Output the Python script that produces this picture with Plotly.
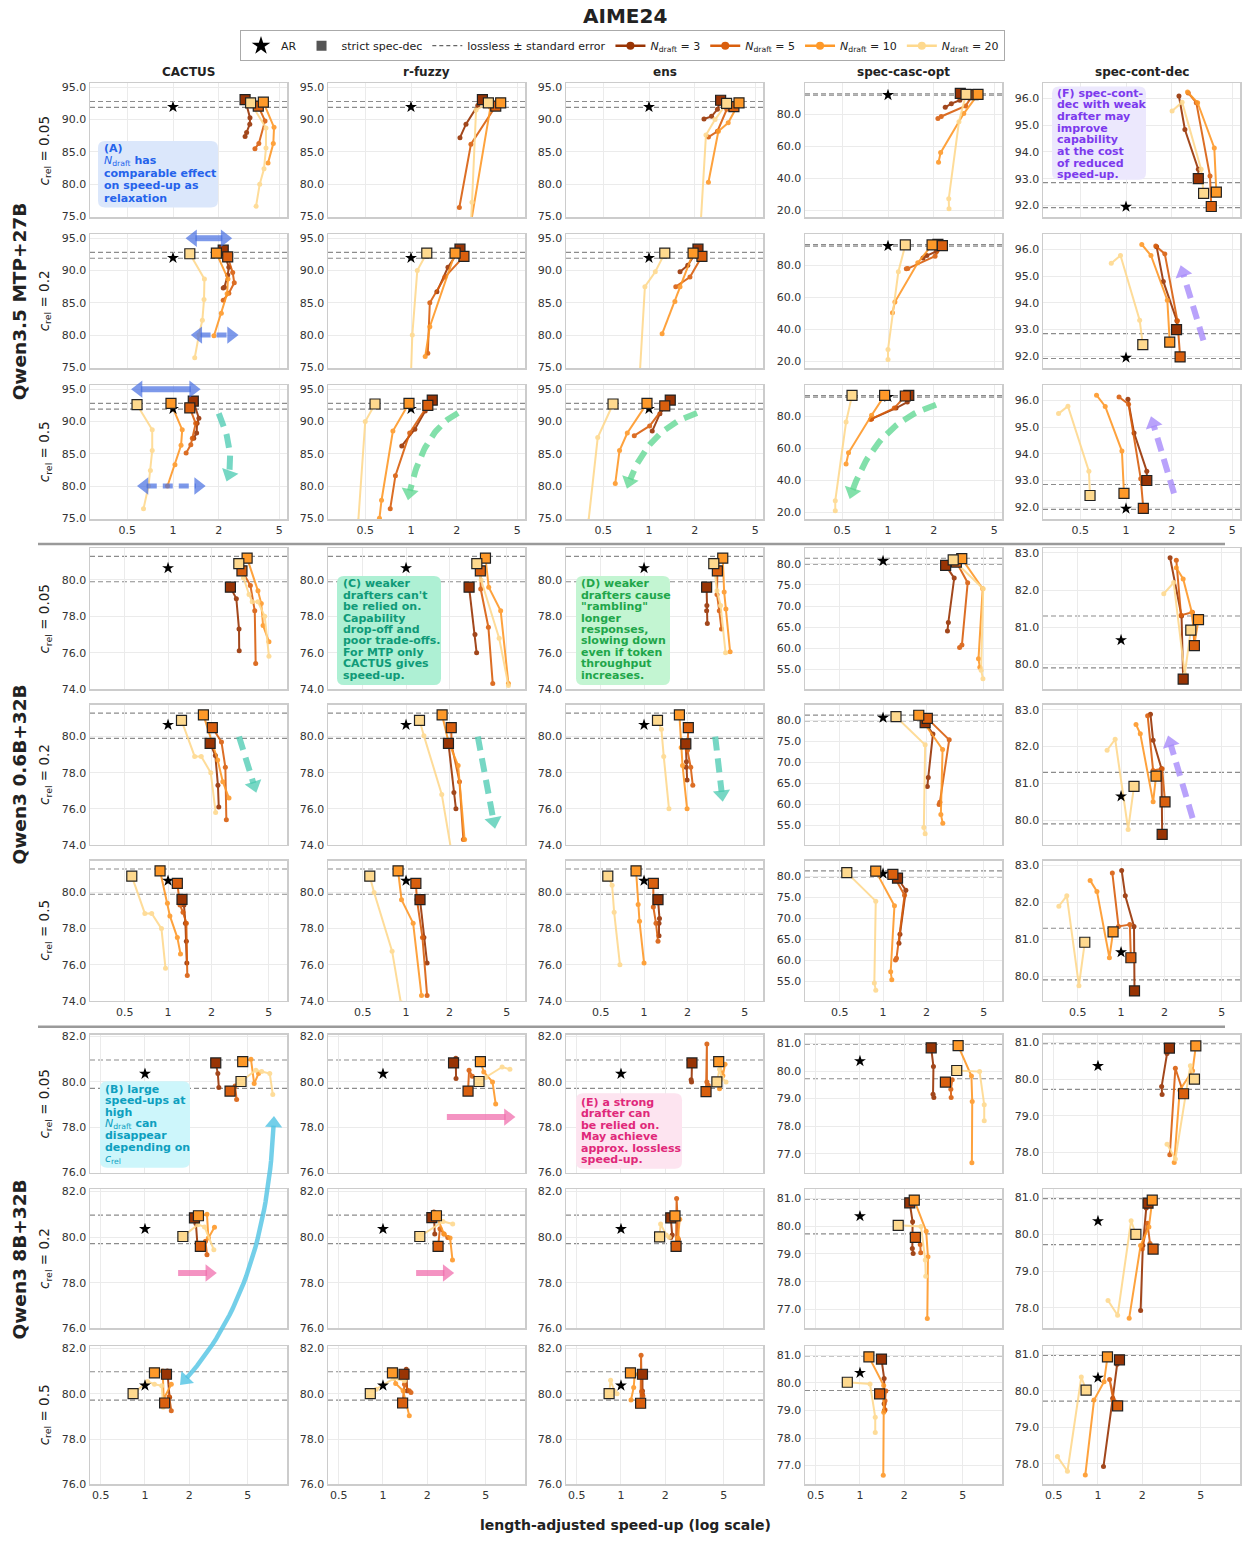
import numpy as np
import plotly.graph_objects as go

# ------------------------------------------------------------------ data
TITLE = "AIME24"
COLUMNS = ["CACTUS", "r-fuzzy", "ens", "spec-casc-opt", "spec-cont-dec"]
MODELS = ["Qwen3.5 MTP+27B", "Qwen3 0.6B+32B", "Qwen3 8B+32B"]
C_REL = ["0.05", "0.2", "0.5"]
N_DRAFT = [3, 5, 10, 20]
X_TICKS = [0.5, 1, 2, 5]
X_TICK_TEXT = ["0.5", "1", "2", "5"]

AR_SPEEDUP = 1.0
AR_ACC = [91.95, 80.65, 80.36]
LOSSLESS_HI = [[92.8, 92.8, 92.8, 92.75, 92.85], [81.3] * 5, [80.97] * 5]
LOSSLESS_LO = [[91.9, 91.9, 91.9, 91.85, 91.92], [79.9] * 5, [79.72] * 5]

Y_TICKS = [
    [[75, 80, 85, 90, 95]] * 3 + [[20, 40, 60, 80], [92, 93, 94, 95, 96]],
    [[74, 76, 78, 80]] * 3 + [[55, 60, 65, 70, 75, 80], [80, 81, 82, 83]],
    [[76, 78, 80, 82]] * 3 + [[77, 78, 79, 80, 81], [78, 79, 80, 81]],
]

# Each panel: one list per N_draft (3, 5, 10, 20); first point = strict spec-dec.
# ---- Qwen3.5 MTP+27B
mtp_005_cactus_s = [[2.98, 3.21, 3.20, 3.05, 2.98], [3.64, 4.03, 3.67, 3.46], [3.93, 4.62, 4.57, 4.22], [3.24, 4.09, 4.09, 3.97, 3.72, 3.52]]
mtp_005_cactus_a = [[93.1, 90.3, 89.3, 88.0, 87.4], [92.1, 89.8, 86.3, 85.5], [92.7, 88.8, 86.3, 83.3], [92.6, 88.7, 85.6, 82.4, 80.0, 76.6]]
mtp_005_rfuzzy_s = [[2.95, 2.75, 2.30, 2.10], [3.61, 2.48, 2.08], [3.89, 3.33, 2.50], [3.23, 2.68, 2.52, 2.48]]
mtp_005_rfuzzy_a = [[93.1, 92.2, 89.3, 87.2], [92.1, 86.2, 76.4], [92.6, 91.9, 74.5], [92.6, 91.5, 77.2, 74.0]]
mtp_005_ens_s = [[2.96, 2.82, 2.58, 2.30], [3.62, 3.25, 2.82, 2.46], [3.91, 3.32, 2.86, 2.46], [3.24, 2.72, 2.37, 2.19]]
mtp_005_ens_a = [[93.0, 91.6, 90.5, 90.1], [92.0, 91.6, 88.2, 87.3], [92.6, 89.5, 88.2, 80.3], [92.5, 90.0, 87.6, 74.0]]
mtp_005_casc_s = [[2.99, 2.97, 2.61, 2.38], [3.63, 3.24, 2.24, 2.13], [3.91, 3.15, 2.22, 2.15], [3.26, 2.93, 2.51, 2.52]]
mtp_005_casc_a = [[93.0, 88.7, 86.6, 84.3], [92.2, 85.2, 78.6, 77.3], [92.4, 80.4, 56.1, 50.1], [92.4, 75.3, 27.4, 21.2]]
mtp_005_cont_s = [[2.99, 2.99, 2.44, 2.23], [3.64, 3.57, 2.90, 2.57], [3.93, 3.81, 2.96, 2.54], [3.24, 3.12, 2.34, 2.01]]
mtp_005_cont_a = [[93.0, 93.35, 94.84, 96.09], [91.96, 93.1, 95.84, 96.2], [92.5, 94.15, 95.84, 96.24], [92.45, 93.35, 95.86, 95.53]]

mtp_02_cactus_s = [[2.14, 2.33, 2.29, 2.18, 2.14], [2.29, 2.47, 2.53, 2.33, 2.14], [1.93, 2.30, 2.27, 2.08, 1.86], [1.29, 1.61, 1.60, 1.56, 1.48, 1.39]]
mtp_02_cactus_a = [[93.15, 90.5, 89.3, 87.4, 87.3], [92.1, 89.7, 88.1, 86.5, 85.4], [92.7, 88.7, 86.4, 83.4, 79.9], [92.6, 88.7, 85.5, 82.3, 80.0, 76.5]]
mtp_02_rfuzzy_s = [[2.10, 1.75, 1.48], [2.23, 1.67, 1.33, 1.29], [1.95, 1.33, 1.24], [1.27, 1.10, 1.02, 1.0]]
mtp_02_rfuzzy_a = [[93.3, 90.5, 86.7], [92.2, 89.0, 85.0, 77.2], [92.7, 81.3, 76.7], [92.7, 90.0, 80.0, 74.0]]
mtp_02_ens_s = [[2.10, 1.80, 1.60], [2.23, 1.86, 1.50], [1.95, 1.60, 1.48, 1.22], [1.27, 1.10, 0.94, 0.87]]
mtp_02_ens_a = [[93.3, 90.8, 89.8], [92.2, 89.0, 87.5], [92.7, 87.5, 85.2, 80.2], [92.7, 89.8, 87.5, 74.0]]
mtp_02_casc_s = [[2.13, 2.08, 1.80, 1.70], [2.28, 2.04, 1.35, 1.32], [1.95, 1.57, 1.11, 1.07], [1.30, 1.17, 1.0, 1.0]]
mtp_02_casc_a = [[92.9, 88.5, 86.0, 84.5], [92.2, 85.6, 77.9, 77.7], [92.6, 81.5, 57.0, 50.3], [92.6, 75.9, 27.5, 21.3]]
mtp_02_cont_s = [[2.15, 2.16, 1.76, 1.59], [2.27, 2.18, 1.80, 1.57], [1.94, 1.87, 1.46, 1.27], [1.29, 1.23, 0.92, 0.80]]
mtp_02_cont_a = [[93.0, 93.33, 94.8, 96.1], [91.98, 93.33, 95.83, 96.12], [92.53, 94.1, 95.77, 96.18], [92.44, 93.35, 95.77, 95.48]]

mtp_05_cactus_s = [[1.36, 1.48, 1.44, 1.43, 1.37], [1.29, 1.41, 1.34, 1.31, 1.22], [0.97, 1.15, 1.13, 1.03, 0.92], [0.58, 0.73, 0.73, 0.71, 0.69, 0.64]]
mtp_05_cactus_a = [[93.15, 90.5, 89.7, 88.2, 87.4], [92.1, 89.7, 87.4, 86.4, 85.1], [92.8, 88.7, 86.3, 83.3, 80.0], [92.6, 88.7, 85.5, 82.4, 80.0, 76.5]]
mtp_05_rfuzzy_s = [[1.38, 1.24, 1.06, 0.87], [1.29, 0.98, 0.79, 0.73], [0.97, 0.76, 0.64, 0.62], [0.58, 0.50, 0.45]]
mtp_05_rfuzzy_a = [[93.3, 91.6, 88.8, 86.2], [92.5, 88.2, 81.6, 76.5], [92.8, 88.5, 77.8, 75.0], [92.7, 90.0, 74.6]]
mtp_05_ens_s = [[1.38, 1.18, 1.05], [1.27, 1.01, 0.80], [0.97, 0.72, 0.64, 0.60], [0.58, 0.46, 0.40]]
mtp_05_ens_a = [[93.3, 91.2, 88.5], [92.4, 89.3, 87.8], [92.8, 88.2, 85.5, 80.4], [92.7, 87.5, 74.6]]
mtp_05_casc_s = [[1.37, 1.34, 1.13, 0.78], [1.30, 1.10, 0.78, 0.77], [0.95, 0.78, 0.55, 0.53], [0.58, 0.53, 0.45, 0.45]]
mtp_05_casc_a = [[92.9, 88.75, 85.0, 78.3], [92.5, 85.0, 78.3, 77.8], [92.9, 80.5, 57.1, 50.2], [92.9, 76.3, 27.3, 21.0]]
mtp_05_cont_s = [[1.37, 1.37, 1.13, 1.03], [1.30, 1.25, 1.04, 0.90], [0.97, 0.94, 0.73, 0.64], [0.58, 0.57, 0.415, 0.36]]
mtp_05_cont_a = [[93.0, 93.35, 94.78, 96.04], [91.96, 93.07, 95.85, 96.12], [92.52, 94.1, 95.77, 96.19], [92.44, 93.35, 95.78, 95.5]]

# ---- Qwen3 0.6B+32B
q06_005_cactus_s = [[2.71, 2.98, 3.11, 3.12], [3.26, 3.73, 4.0, 4.06], [3.54, 4.21, 4.44, 4.57, 5.02], [3.10, 3.34, 3.65, 3.84, 4.21, 4.69, 5.02]]
q06_005_cactus_a = [[79.6, 78.97, 77.3, 76.1], [80.5, 79.7, 78.3, 75.4], [81.2, 79.4, 78.7, 77.5, 76.6], [80.9, 80.1, 79.2, 78.8, 78.8, 78.0, 75.8]]
q06_005_rfuzzy_s = [[2.74, 3.01, 3.09], [3.28, 3.30, 3.73, 4.0], [3.56, 3.75, 4.54, 5.14], [3.10, 3.32, 4.43, 5.14]]
q06_005_rfuzzy_a = [[79.6, 77.0, 76.0], [80.5, 79.5, 77.4, 74.3], [81.2, 79.6, 78.3, 74.3], [80.9, 80.0, 76.8, 74.2]]
q06_005_ens_s = [[2.72, 2.73, 2.72, 2.75], [3.23, 3.21, 3.33, 3.45], [3.52, 3.60, 3.70, 3.96], [3.05, 3.21, 3.40, 3.68]]
q06_005_ens_a = [[79.6, 78.6, 78.3, 77.6], [80.5, 79.2, 78.3, 77.3], [81.2, 79.33, 78.4, 76.05], [80.9, 79.4, 78.6, 76.0]]
q06_005_casc_s = [[2.72, 3.12, 2.84, 2.80], [3.23, 3.87, 3.53, 3.40], [3.52, 4.92, 4.60, 4.70], [3.07, 4.96, 4.80, 4.94]]
q06_005_casc_a = [[79.6, 76.6, 66.1, 64.1], [80.4, 75.5, 60.8, 60.2], [81.2, 74.1, 57.5, 55.5], [80.9, 74.1, 54.8, 52.8]]
q06_005_cont_s = [[2.70, 2.63, 2.19], [3.23, 3.13, 2.61, 2.42], [3.45, 3.25, 3.10, 2.70, 2.42], [3.05, 2.77, 2.32, 1.98]]
q06_005_cont_a = [[79.6, 81.3, 82.87], [80.5, 81.4, 81.32, 82.8], [81.2, 80.6, 81.4, 82.3, 82.6], [80.92, 79.73, 82.2, 81.9]]

q06_02_cactus_s = [[1.96, 2.13, 2.22, 2.25], [2.03, 2.35, 2.50, 2.54], [1.76, 2.03, 2.21, 2.40, 2.65], [1.24, 1.53, 1.70, 1.98, 2.14]]
q06_02_cactus_a = [[79.62, 78.95, 77.3, 76.1], [80.5, 79.7, 78.3, 75.4], [81.2, 79.6, 78.7, 77.5, 76.6], [80.9, 78.9, 78.9, 78.0, 75.8]]
q06_02_rfuzzy_s = [[1.97, 2.15, 2.22], [2.06, 2.07, 2.35, 2.50], [1.78, 1.97, 2.30, 2.55], [1.24, 1.33, 1.77, 2.05]]
q06_02_rfuzzy_a = [[79.62, 76.9, 76.0], [80.5, 79.55, 77.5, 74.3], [81.2, 79.7, 78.4, 74.3], [80.9, 80.05, 76.8, 73.8]]
q06_02_ens_s = [[1.95, 1.97, 1.96, 1.99], [2.03, 2.00, 2.11, 2.18], [1.76, 1.81, 1.85, 1.99], [1.24, 1.32, 1.37, 1.49]]
q06_02_ens_a = [[79.6, 78.6, 78.3, 77.6], [80.5, 79.24, 78.3, 77.3], [81.2, 79.4, 78.4, 76.0], [80.9, 80.4, 78.9, 76.0]]
q06_02_casc_s = [[1.96, 2.22, 2.06, 2.03], [2.03, 2.88, 2.48, 2.45], [1.77, 2.59, 2.52, 2.60], [1.23, 1.96, 1.92, 1.96]]
q06_02_casc_a = [[79.5, 76.8, 66.4, 64.3], [80.5, 75.4, 60.5, 60.0], [81.25, 73.1, 57.6, 55.5], [80.9, 74.2, 54.5, 53.0]]
q06_02_cont_s = [[1.93, 1.91, 1.67, 1.60], [2.02, 1.93, 1.67, 1.53], [1.75, 1.67, 1.36, 1.27], [1.23, 1.12, 0.91, 0.80]]
q06_02_cont_a = [[79.62, 81.4, 82.17, 82.88], [80.5, 81.4, 81.35, 82.84], [81.2, 80.5, 82.35, 82.6], [80.92, 79.75, 82.2, 81.9]]

q06_05_cactus_s = [[1.25, 1.29, 1.32, 1.34, 1.35], [1.16, 1.21, 1.27, 1.34, 1.36], [0.88, 0.99, 1.03, 1.16, 1.22], [0.56, 0.69, 0.77, 0.90, 0.96]]
q06_05_cactus_a = [[79.62, 79.3, 78.3, 77.3, 76.1], [80.5, 79.3, 78.9, 78.3, 75.4], [81.2, 79.4, 78.7, 77.5, 76.6], [80.9, 78.84, 78.84, 78.0, 75.8]]
q06_05_rfuzzy_s = [[1.25, 1.33, 1.40], [1.17, 1.19, 1.30, 1.40], [0.88, 0.93, 1.12, 1.28], [0.56, 0.60, 0.80, 0.92]]
q06_05_rfuzzy_a = [[79.6, 77.5, 76.1], [80.5, 79.6, 77.5, 74.3], [81.2, 79.6, 78.3, 74.3], [80.9, 80.0, 76.75, 73.9]]
q06_05_ens_s = [[1.25, 1.28, 1.27, 1.27], [1.16, 1.16, 1.21, 1.25], [0.88, 0.91, 0.93, 1.0], [0.56, 0.60, 0.62, 0.68]]
q06_05_ens_a = [[79.6, 78.56, 78.3, 77.6], [80.5, 79.2, 78.3, 77.3], [81.2, 79.33, 78.4, 76.1], [80.9, 80.4, 78.9, 76.0]]
q06_05_casc_s = [[1.26, 1.44, 1.31, 1.29], [1.17, 1.41, 1.24, 1.22], [0.89, 1.20, 1.13, 1.15], [0.56, 0.89, 0.87, 0.89]]
q06_05_casc_a = [[79.6, 76.7, 66.2, 64.1], [80.5, 75.5, 60.5, 60.1], [81.25, 73.0, 57.3, 55.4], [80.9, 74.1, 54.6, 52.9]]
q06_05_cont_s = [[1.24, 1.23, 1.07, 1.01], [1.17, 1.15, 0.96, 0.87], [0.88, 0.83, 0.68, 0.61], [0.56, 0.51, 0.42, 0.37]]
q06_05_cont_a = [[79.6, 81.35, 82.18, 82.87], [80.5, 81.4, 81.35, 82.8], [81.2, 80.5, 82.3, 82.6], [80.92, 79.74, 82.18, 81.9]]

# ---- Qwen3 8B+32B
q8_005_cactus_s = [[3.03, 3.13, 3.18], [3.79, 4.10, 4.20], [4.62, 5.26, 5.53, 5.92], [4.50, 5.68, 6.22, 7.06, 7.40]]
q8_005_cactus_a = [[80.84, 80.37, 79.76], [79.6, 79.82, 79.23], [80.9, 81.0, 79.93, 80.37], [80.02, 80.52, 80.46, 80.37, 79.45]]
q8_005_rfuzzy_s = [[3.02, 3.13, 3.14], [3.79, 3.85, 4.05], [4.60, 4.85, 5.56, 5.84], [4.50, 5.0, 6.46, 7.30]]
q8_005_rfuzzy_a = [[80.84, 81.05, 80.15], [79.6, 80.52, 80.25], [80.9, 80.44, 80.0, 79.03], [80.02, 80.2, 80.66, 80.56]]
q8_005_ens_s = [[3.04, 3.0, 3.02], [3.79, 3.84, 3.84, 3.92], [4.62, 4.93, 5.10, 4.68], [4.49, 4.68, 4.85, 5.18]]
q8_005_ens_a = [[80.84, 80.1, 80.0], [79.57, 81.68, 80.0, 79.86], [80.9, 80.27, 80.78, 79.7], [80.0, 80.56, 80.2, 80.0]]
q8_005_casc_s = [[3.05, 3.16, 3.14, 3.18], [3.81, 4.24, 4.15, 4.17], [4.65, 5.73, 5.80, 5.77], [4.55, 6.51, 7.0, 7.0]]
q8_005_casc_a = [[80.84, 80.16, 79.16, 79.04], [79.6, 79.68, 79.34, 79.04], [80.92, 79.82, 78.9, 76.68], [80.02, 79.98, 78.78, 78.2]]
q8_005_cont_s = [[3.06, 2.95, 2.71, 2.73], [3.82, 3.36, 3.08], [4.63, 4.40, 3.60, 3.30], [4.53, 4.25, 3.36, 2.95]]
q8_005_cont_a = [[80.85, 80.7, 79.8, 79.58], [79.6, 80.3, 77.93], [80.91, 80.23, 79.7, 77.72], [80.0, 80.37, 77.81, 78.22]]

q8_02_cactus_s = [[2.17, 2.22, 2.27], [2.38, 2.58, 2.64], [2.31, 2.64, 2.70, 2.97], [1.81, 2.29, 2.54, 2.94]]
q8_02_cactus_a = [[80.85, 80.6, 79.74], [79.6, 79.82, 79.23], [80.94, 81.0, 79.96, 80.44], [80.03, 80.55, 80.45, 79.45]]
q8_02_rfuzzy_s = [[2.15, 2.22, 2.25], [2.37, 2.44, 2.60, 2.76], [2.31, 2.60, 2.86, 2.97], [1.78, 2.56, 2.98]]
q8_02_rfuzzy_a = [[80.86, 81.1, 80.14], [79.6, 80.37, 80.14, 79.99], [80.94, 80.14, 79.97, 79.0], [80.03, 80.69, 80.58]]
q8_02_ens_s = [[2.18, 2.23, 2.18], [2.37, 2.39, 2.46], [2.33, 2.51, 2.44], [1.83, 1.86, 2.03, 2.13]]
q8_02_ens_a = [[80.85, 80.1, 79.99], [79.6, 81.7, 79.9], [80.93, 80.79, 79.96], [80.01, 80.58, 80.1, 80.0]]
q8_02_casc_s = [[2.18, 2.28, 2.27, 2.30], [2.38, 2.57, 2.59], [2.34, 2.82, 2.90, 2.87], [1.82, 2.60, 2.78, 2.80]]
q8_02_casc_a = [[80.84, 80.16, 79.2, 79.02], [79.6, 79.34, 79.04], [80.94, 79.82, 78.9, 76.68], [80.03, 79.99, 78.78, 78.2]]
q8_02_cont_s = [[2.19, 2.13, 2.02, 1.95], [2.37, 2.26, 2.17, 2.0], [2.34, 2.22, 1.95, 1.63], [1.81, 1.68, 1.36, 1.17]]
q8_02_cont_a = [[80.85, 80.72, 79.7, 77.93], [79.6, 79.75, 80.3, 79.6], [80.93, 80.2, 79.7, 77.72], [80.0, 80.37, 77.8, 78.2]]

q8_05_cactus_s = [[1.40, 1.42, 1.47], [1.36, 1.46, 1.51], [1.16, 1.32, 1.34, 1.51], [0.83, 1.04, 1.16, 1.30, 1.33]]
q8_05_cactus_a = [[80.86, 81.0, 79.84], [79.59, 79.87, 79.25], [80.92, 81.0, 79.77, 80.42], [80.0, 80.54, 80.42, 80.35, 79.4]]
q8_05_rfuzzy_s = [[1.39, 1.44, 1.46], [1.36, 1.40, 1.51, 1.55], [1.16, 1.22, 1.37, 1.51], [0.82, 0.90, 1.18, 1.40]]
q8_05_rfuzzy_a = [[80.86, 81.08, 80.13], [79.59, 80.42, 80.13, 80.05], [80.92, 80.45, 80.13, 79.03], [80.0, 80.2, 80.67, 80.57]]
q8_05_ens_s = [[1.40, 1.40, 1.40], [1.36, 1.37, 1.38, 1.41], [1.16, 1.24, 1.22, 1.17], [0.83, 0.85, 0.90, 0.94]]
q8_05_ens_a = [[80.86, 80.12, 79.97], [79.58, 81.7, 80.1, 79.9], [80.92, 80.86, 80.27, 79.72], [80.0, 80.6, 80.12, 80.0]]
q8_05_casc_s = [[1.40, 1.46, 1.46, 1.47], [1.36, 1.50, 1.48, 1.48], [1.15, 1.45, 1.45, 1.44], [0.82, 1.17, 1.27, 1.27]]
q8_05_casc_a = [[80.86, 80.16, 79.24, 79.0], [79.6, 79.7, 79.35, 79.02], [80.94, 79.9, 78.93, 76.65], [80.02, 79.96, 78.75, 78.2]]
q8_05_cont_s = [[1.40, 1.35, 1.26, 1.09], [1.36, 1.30, 1.20, 1.27], [1.16, 1.10, 0.94, 0.82], [0.83, 0.77, 0.62, 0.53]]
q8_05_cont_a = [[80.85, 80.73, 79.8, 77.93], [79.59, 79.7, 80.31, 79.75], [80.93, 80.25, 79.75, 77.7], [80.02, 80.38, 77.8, 78.2]]

SPEED = [
    [mtp_005_cactus_s, mtp_005_rfuzzy_s, mtp_005_ens_s, mtp_005_casc_s, mtp_005_cont_s],
    [mtp_02_cactus_s, mtp_02_rfuzzy_s, mtp_02_ens_s, mtp_02_casc_s, mtp_02_cont_s],
    [mtp_05_cactus_s, mtp_05_rfuzzy_s, mtp_05_ens_s, mtp_05_casc_s, mtp_05_cont_s],
    [q06_005_cactus_s, q06_005_rfuzzy_s, q06_005_ens_s, q06_005_casc_s, q06_005_cont_s],
    [q06_02_cactus_s, q06_02_rfuzzy_s, q06_02_ens_s, q06_02_casc_s, q06_02_cont_s],
    [q06_05_cactus_s, q06_05_rfuzzy_s, q06_05_ens_s, q06_05_casc_s, q06_05_cont_s],
    [q8_005_cactus_s, q8_005_rfuzzy_s, q8_005_ens_s, q8_005_casc_s, q8_005_cont_s],
    [q8_02_cactus_s, q8_02_rfuzzy_s, q8_02_ens_s, q8_02_casc_s, q8_02_cont_s],
    [q8_05_cactus_s, q8_05_rfuzzy_s, q8_05_ens_s, q8_05_casc_s, q8_05_cont_s],
]
ACC = [
    [mtp_005_cactus_a, mtp_005_rfuzzy_a, mtp_005_ens_a, mtp_005_casc_a, mtp_005_cont_a],
    [mtp_02_cactus_a, mtp_02_rfuzzy_a, mtp_02_ens_a, mtp_02_casc_a, mtp_02_cont_a],
    [mtp_05_cactus_a, mtp_05_rfuzzy_a, mtp_05_ens_a, mtp_05_casc_a, mtp_05_cont_a],
    [q06_005_cactus_a, q06_005_rfuzzy_a, q06_005_ens_a, q06_005_casc_a, q06_005_cont_a],
    [q06_02_cactus_a, q06_02_rfuzzy_a, q06_02_ens_a, q06_02_casc_a, q06_02_cont_a],
    [q06_05_cactus_a, q06_05_rfuzzy_a, q06_05_ens_a, q06_05_casc_a, q06_05_cont_a],
    [q8_005_cactus_a, q8_005_rfuzzy_a, q8_005_ens_a, q8_005_casc_a, q8_005_cont_a],
    [q8_02_cactus_a, q8_02_rfuzzy_a, q8_02_ens_a, q8_02_casc_a, q8_02_cont_a],
    [q8_05_cactus_a, q8_05_rfuzzy_a, q8_05_ens_a, q8_05_casc_a, q8_05_cont_a],
]

# ------------------------------------------------------------------ layout / style
W, H = 1245, 1543
FONT = "DejaVu Sans, Verdana, sans-serif"
COL_LEFT = [90, 328, 566, 805, 1043]
PANEL_W = 197
ROW_TOP = [80, 232, 384, 548, 706, 863, 1038, 1194, 1352]
ROW_BOT = [215, 367, 519, 690, 847, 1004, 1177, 1334, 1491]
X_RANGE = [(-0.546, 0.750), (-0.542, 0.826), (-0.374, 0.966)]
Y_RANGE = [
    [(74.85, 95.6)] * 3 + [(15.7, 99.2), (91.55, 96.56)],
    [(74.0, 81.75)] * 3 + [(50.35, 83.7), (79.33, 83.13)],
    [(76.0, 82.09)] * 3 + [(76.32, 81.32), (77.44, 81.22)],
]
COLORS = {3: "#993404", 5: "#d95f0e", 10: "#fe9929", 20: "#fed98e"}
GRID = "#ebebeb"
FRAME = "#cccccc"
OV = 46  # overlay axis (pixel coordinates) for arrows

fig = go.Figure()


def refs(k):
    return ("x", "y") if k == 1 else (f"x{k}", f"y{k}")


axes_layout = {}
for r in range(9):
    g = r // 3
    for c in range(5):
        k = r * 5 + c + 1
        xr, yr = refs(k)
        axes_layout["xaxis" if k == 1 else f"xaxis{k}"] = dict(
            domain=[COL_LEFT[c] / W, (COL_LEFT[c] + PANEL_W) / W], anchor=yr,
            type="log", range=list(X_RANGE[g]), tickvals=X_TICKS, ticktext=X_TICK_TEXT,
            showticklabels=(r % 3 == 2), showgrid=True, gridcolor=GRID, gridwidth=1,
            showline=True, mirror=True, linecolor=FRAME, linewidth=1.5, zeroline=False,
            ticks="", tickfont=dict(size=11, color="#333", family=FONT), fixedrange=True)
        axes_layout["yaxis" if k == 1 else f"yaxis{k}"] = dict(
            domain=[1 - ROW_BOT[r] / H, 1 - ROW_TOP[r] / H], anchor=xr,
            range=list(Y_RANGE[g][c]), tickvals=Y_TICKS[g][c], tickformat=".1f",
            showgrid=True, gridcolor=GRID, gridwidth=1, showline=True, mirror=True,
            linecolor=FRAME, linewidth=1.5, zeroline=False, ticks="",
            tickfont=dict(size=11, color="#333", family=FONT), fixedrange=True)
axes_layout[f"xaxis{OV}"] = dict(domain=[0, 1], range=[0, W], visible=False, anchor=f"y{OV}", fixedrange=True)
axes_layout[f"yaxis{OV}"] = dict(domain=[0, 1], range=[H, 0], visible=False, anchor=f"x{OV}", fixedrange=True)

shapes = []
annotations = []

for r in range(9):
    g = r // 3
    for c in range(5):
        k = r * 5 + c + 1
        xr, yr = refs(k)
        for yv in (LOSSLESS_HI[g][c], LOSSLESS_LO[g][c]):
            shapes.append(dict(type="line", xref=f"{xr} domain", yref=yr, x0=0, x1=1,
                               y0=yv, y1=yv, line=dict(color="#8c8c8c", width=1.2, dash="5px,3px"),
                               layer="below"))
        sp, ac = SPEED[r][c], ACC[r][c]
        for i, n in enumerate(N_DRAFT):
            fig.add_trace(go.Scatter(
                x=sp[i], y=ac[i], mode="lines+markers", xaxis=xr, yaxis=yr,
                line=dict(color=COLORS[n], width=2), marker=dict(color=COLORS[n], size=5),
                opacity=0.9, showlegend=False, hoverinfo="skip"))
        fig.add_trace(go.Scatter(
            x=[AR_SPEEDUP], y=[AR_ACC[g]], mode="markers", xaxis=xr, yaxis=yr,
            marker=dict(symbol="star", color="black", size=9), showlegend=False, hoverinfo="skip"))
        for i, n in enumerate(N_DRAFT):
            fig.add_trace(go.Scatter(
                x=[sp[i][0]], y=[ac[i][0]], mode="markers", xaxis=xr, yaxis=yr,
                marker=dict(symbol="square", color=COLORS[n], size=10,
                            line=dict(color="#222", width=1.2)),
                showlegend=False, hoverinfo="skip"))

# legend entries
fig.add_trace(go.Scatter(x=[None], y=[None], mode="markers", name="AR",
                         marker=dict(symbol="star", color="black", size=14)))
fig.add_trace(go.Scatter(x=[None], y=[None], mode="markers", name="strict spec-dec",
                         marker=dict(symbol="square", color="#555555", size=10)))
fig.add_trace(go.Scatter(x=[None], y=[None], mode="lines", name="lossless ± standard error",
                         line=dict(color="#666", width=1.3, dash="4px,3px")))
for n in N_DRAFT:
    fig.add_trace(go.Scatter(x=[None], y=[None], mode="lines+markers",
                             name=f"<i>N</i><sub>draft</sub> = {n}",
                             line=dict(color=COLORS[n], width=2.5), marker=dict(color=COLORS[n], size=8)))


def paper(px, py):
    return px / W, 1 - py / H


def text_ann(px, py, text, size=12, bold=False, color="#222", angle=0, xanchor="center", yanchor="middle"):
    x, y = paper(px, py)
    annotations.append(dict(xref="paper", yref="paper", x=x, y=y, text=f"<b>{text}</b>" if bold else text,
                            showarrow=False, textangle=angle, xanchor=xanchor, yanchor=yanchor,
                            font=dict(family=FONT, size=size, color=color)))


text_ann(625, 12, TITLE, size=20, bold=True)
for c, name in enumerate(COLUMNS):
    text_ann(COL_LEFT[c] + PANEL_W / 2, 68, name, size=12, bold=True)
for r in range(9):
    text_ann(45, (ROW_TOP[r] + ROW_BOT[r]) / 2, f"<i>c</i><sub>rel</sub> = {C_REL[r % 3]}", size=13.5, angle=-90)
for g, name in enumerate(MODELS):
    text_ann(19, (ROW_TOP[3 * g] + ROW_BOT[3 * g + 2]) / 2, name, size=18.5, bold=True, angle=-90)
text_ann(625, 1532, "length-adjusted speed-up (log scale)", size=14, bold=True)

for ysep in (544, 1030):
    x0, y0 = paper(38, ysep)
    x1, _ = paper(1225, ysep)
    shapes.append(dict(type="line", xref="paper", yref="paper", x0=x0, x1=x1, y0=y0, y1=y0,
                       line=dict(color="#9a9a9a", width=2.5)))


# rounded text boxes
def rounded_path(x0, y0, x1, y1, rad=7):
    def P(px, py):
        a, b = paper(px, py)
        return f"{a:.5f},{b:.5f}"
    return (f"M {P(x0 + rad, y0)} L {P(x1 - rad, y0)} Q {P(x1, y0)} {P(x1, y0 + rad)} "
            f"L {P(x1, y1 - rad)} Q {P(x1, y1)} {P(x1 - rad, y1)} L {P(x0 + rad, y1)} "
            f"Q {P(x0, y1)} {P(x0, y1 - rad)} L {P(x0, y0 + rad)} Q {P(x0, y0)} {P(x0 + rad, y0)} Z")


NDR = "<i>N</i><sub>draft</sub>"
BOXES = [
    ((98, 138, 218, 205), "#dbe7fb", "#2563eb", 102, 146, 12.4,
     ["(A)", NDR + " has", "comparable effect", "on speed-up as", "relaxation"]),
    ((100, 1085, 190, 1172), "#cdf6fb", "#0e9fbf", 103, 1093, 11.7,
     ["(B) large", "speed-ups at", "high", NDR + " can", "disappear", "depending on", "<i>c</i><sub>rel</sub>"]),
    ((337, 576, 441, 686), "#aef0d4", "#0f9a78", 341, 584, 11.5,
     ["(C) weaker", "drafters can't", "be relied on.", "Capability", "drop-off and",
      "poor trade-offs.", "For MTP only", "CACTUS gives", "speed-up."]),
    ((576, 576, 670, 686), "#c3f5d2", "#1fa64a", 579, 584, 11.5,
     ["(D) weaker", "drafters cause", "\"rambling\"", "longer", "responses,", "slowing down",
      "even if token", "throughput", "increases."]),
    ((576, 1097, 682, 1173), "#fde4f0", "#e0287a", 579, 1106, 11.6,
     ["(E) a strong", "drafter can", "be relied on.", "May achieve", "approx. lossless", "speed-up."]),
    ((1052, 83, 1146, 177), "#ece8fd", "#7c3aed", 1055, 90, 11.7,
     ["(F) spec-cont-", "dec with weak", "drafter may", "improve", "capability", "at the cost",
      "of reduced", "speed-up."]),
]
for (bx0, by0, bx1, by1), bg, fg, tx, ty, dy, lines in BOXES:
    shapes.append(dict(type="path", xref="paper", yref="paper", path=rounded_path(bx0, by0, bx1, by1),
                       fillcolor=bg, line=dict(width=0), layer="above"))
    for j, ln in enumerate(lines):
        if ln.startswith("<i>"):
            txt = ln.replace("</sub> ", "</sub><b> ") + ("</b>" if "</sub> " in ln else "")
        else:
            txt = f"<b>{ln}</b>"
        x, y = paper(tx, ty + j * dy)
        annotations.append(dict(xref="paper", yref="paper", x=x, y=y, text=txt, showarrow=False,
                                xanchor="left", yanchor="middle",
                                font=dict(family=FONT, size=11, color=fg)))


# ------------------------------------------------------------------ arrows (decoration, pixel space)
def to_px(r, c, x, y):
    g = r // 3
    lx0, lx1 = X_RANGE[g]
    ly0, ly1 = Y_RANGE[g][c]
    px = COL_LEFT[c] + (np.log10(x) - lx0) / (lx1 - lx0) * PANEL_W
    py = ROW_BOT[r] - (y - ly0) / (ly1 - ly0) * (ROW_BOT[r] - ROW_TOP[r])
    return np.array([px, py])


def trim_end(line, d):
    tip = line[-1]
    keep = [p for p in line[:-1] if np.linalg.norm(p - tip) > d]
    u = tip - keep[-1]
    u = u / np.linalg.norm(u)
    return np.vstack([keep, tip - u * d])


def draw_arrow(pts, color, width, dash, heads, hsize=15):
    pts = np.asarray(pts, float)
    rad = hsize / 2.0
    line = pts.copy()
    tips = []
    if heads in ("end", "both"):
        u = pts[-1] - pts[-2]
        tips.append((pts[-1], u / np.linalg.norm(u)))
        line = trim_end(line, rad * 1.3)
    if heads == "both":
        u = pts[0] - pts[1]
        tips.append((pts[0], u / np.linalg.norm(u)))
        line = trim_end(line[::-1], rad * 1.3)[::-1]
    fig.add_trace(go.Scatter(x=line[:, 0], y=line[:, 1], mode="lines", xaxis=f"x{OV}", yaxis=f"y{OV}",
                             line=dict(color=color, width=width, dash=dash),
                             showlegend=False, hoverinfo="skip"))
    cx = [t[0] - u[0] * rad for t, u in tips]
    cy = [t[1] - u[1] * rad for t, u in tips]
    ang = [float(np.degrees(np.arctan2(u[0], -u[1]))) for _, u in tips]
    fig.add_trace(go.Scatter(x=cx, y=cy, mode="markers", xaxis=f"x{OV}", yaxis=f"y{OV}",
                             marker=dict(symbol="triangle-up", size=hsize, color=color, angle=ang,
                                         line=dict(width=0)),
                             showlegend=False, hoverinfo="skip", cliponaxis=False))


def quad(p0, c, p2, n=40):
    t = np.linspace(0, 1, n)[:, None]
    return (1 - t) ** 2 * p0 + 2 * (1 - t) * t * c + t ** 2 * p2


BLUE = "rgba(70,110,225,0.7)"
TEAL = "rgba(72,201,176,0.75)"
GREEN = "rgba(88,214,141,0.75)"
PURPLE = "rgba(167,139,250,0.8)"
PINK = "rgba(240,105,170,0.72)"
CYAN = "rgba(80,195,228,0.8)"
DASH_B = "10px,6px"
DASH_T = "14px,8px"

ARROWS = [
    (1, 0, "line", [(1.21, 95.0), (2.45, 95.0)], BLUE, 6, "solid", "both"),
    (1, 0, "line", [(1.31, 80.0), (2.70, 80.0)], BLUE, 5, DASH_B, "both"),
    (2, 0, "line", [(0.53, 95.0), (1.52, 95.0)], BLUE, 6, "solid", "both"),
    (2, 0, "line", [(0.58, 80.0), (1.64, 80.0)], BLUE, 5, DASH_B, "both"),
    (2, 0, "quad", [(2.0, 91.25), (2.63, 85.0), (2.25, 80.7)], TEAL, 6, DASH_T, "end"),
    (2, 1, "quad", [(2.04, 91.3), (1.17, 88.5), (0.955, 77.8)], GREEN, 6, DASH_T, "end"),
    (2, 2, "quad", [(2.07, 91.3), (0.955, 88.9), (0.716, 79.6)], GREEN, 6, DASH_T, "end"),
    (2, 3, "quad", [(2.07, 87.1), (0.79, 75.0), (0.56, 28.3)], GREEN, 6, DASH_T, "end"),
    (1, 4, "line", [(3.23, 92.6), (2.29, 95.4)], PURPLE, 6, DASH_T, "end"),
    (2, 4, "line", [(2.07, 92.52), (1.46, 95.4)], PURPLE, 6, DASH_T, "end"),
    (4, 0, "line", [(3.11, 80.0), (4.1, 76.9)], TEAL, 6, DASH_T, "end"),
    (4, 1, "line", [(3.15, 80.0), (4.15, 74.9)], TEAL, 6, DASH_T, "end"),
    (4, 2, "line", [(3.12, 80.0), (3.52, 76.4)], TEAL, 6, DASH_T, "end"),
    (4, 4, "line", [(3.14, 80.06), (2.12, 82.3)], PURPLE, 6, DASH_T, "end"),
    (6, 1, "line", [(2.72, 78.45), (7.96, 78.45)], PINK, 6, "solid", "end"),
    (7, 0, "line", [(1.68, 78.43), (3.08, 78.43)], PINK, 6, "solid", "end"),
    (7, 1, "line", [(1.68, 78.43), (3.05, 78.43)], PINK, 6, "solid", "end"),
]
for r, c, kind, pts, color, width, dash, heads in ARROWS:
    px = [to_px(r, c, x, y) for x, y in pts]
    if kind == "quad":
        px = quad(px[0], px[1], px[2])
    draw_arrow(px, color, width, dash, heads)

# long curved double arrow spanning c_rel = 0.05 -> 0.5 (Qwen3 8B CACTUS)
draw_arrow(quad(np.array([274, 1120.0]), np.array([268, 1300.0]), np.array([180, 1391.0])),
           CYAN, 4.5, "solid", "both", hsize=15)

fig.update_layout(
    width=W, height=H, margin=dict(l=0, r=0, t=0, b=0),
    paper_bgcolor="white", plot_bgcolor="rgba(0,0,0,0)",
    font=dict(family=FONT, size=11, color="#222"),
    showlegend=True,
    legend=dict(orientation="h", x=0.5, xanchor="center", y=1 - 42 / H, yanchor="middle",
                bordercolor="#aaaaaa", borderwidth=1, bgcolor="white",
                font=dict(family=FONT, size=11, color="#222"), itemwidth=30,
                tracegroupgap=0),
    shapes=shapes, annotations=annotations,
    **axes_layout,
)

PAGE_FIX = ("document.body.style.margin='0';"
            "var d=document.getElementById('{plot_id}');"
            "d.style.position='fixed';d.style.top='0px';d.style.left='0px';")
fig.write_html("out.html", config={"displayModeBar": False, "staticPlot": True},
               post_script=PAGE_FIX)
